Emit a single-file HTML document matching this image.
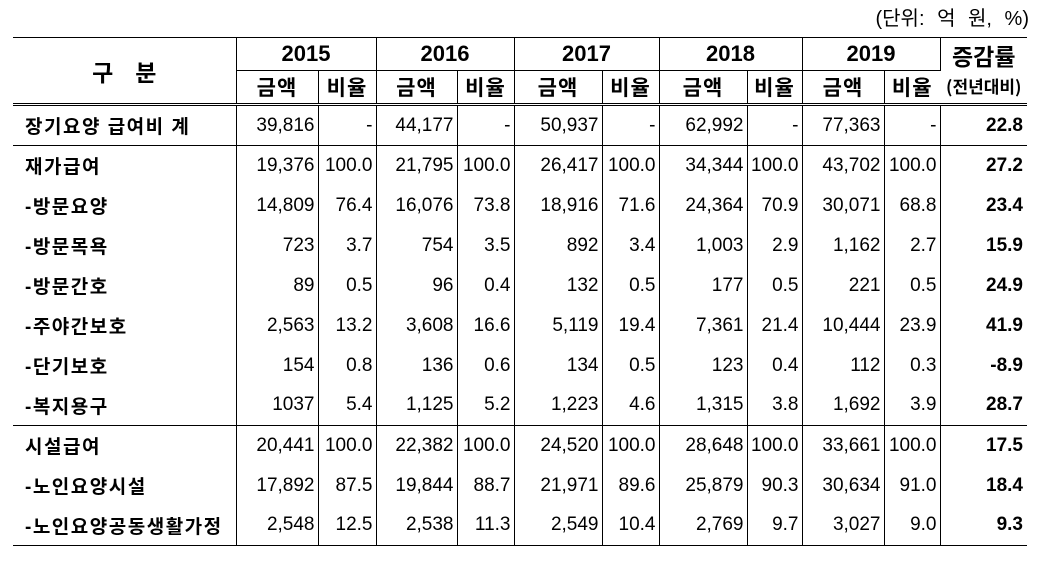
<!DOCTYPE html>
<html><head><meta charset="utf-8"><style>
body{margin:0;background:#fff;width:1049px;height:570px;position:relative;overflow:hidden;font-family:"Liberation Sans","Noto Sans CJK KR",sans-serif;color:#000}
.unit{position:absolute;right:20px;top:5px;font-size:20px;font-family:"Liberation Sans","Noto Sans CJK KR",sans-serif;line-height:28px;word-spacing:7px}
table{position:absolute;left:13px;top:37px;border-collapse:collapse;table-layout:fixed;font-size:19px}
td{padding:0 3px;border-right:1px solid #000;text-align:right;white-space:nowrap;overflow:visible}
td:last-child{border-right:none}
tr.h1 td{height:32px;font-weight:bold;font-size:22px;text-align:center;border-top:1px solid #000}
tr.h2 td{height:32px;font-size:21px;text-align:center;border-bottom:3px double #000;font-weight:bold;font-family:"Noto Sans CJK KR",sans-serif;letter-spacing:1px}
tr.y td.yr{border-bottom:1px solid #000}
td.lab{text-align:left;padding-left:12px;font-weight:bold;font-size:19px;letter-spacing:1.5px;font-family:"Liberation Sans","Noto Sans CJK KR",sans-serif}
tr.r td{height:39px}
tr.b td{border-bottom:1px solid #000}
td.rt{font-weight:bold;padding-right:4px}
</style></head><body>
<div class="unit">(단위: 억 원, %)</div>
<table>
<colgroup><col style="width:223px"><col style="width:82px"><col style="width:58px"><col style="width:81px"><col style="width:57px"><col style="width:88px"><col style="width:57px"><col style="width:88px"><col style="width:55px"><col style="width:82px"><col style="width:56px"><col style="width:87px"></colgroup>
<tr class="h1 y"><td rowspan="2" style="font-size:23px;border-bottom:3px double #000;font-family:'Noto Sans CJK KR',sans-serif;padding:0;text-align:center">구<span style="display:inline-block;width:22px"></span>분</td><td colspan="2" class="yr">2015</td><td colspan="2" class="yr">2016</td><td colspan="2" class="yr">2017</td><td colspan="2" class="yr">2018</td><td colspan="2" class="yr">2019</td><td rowspan="2" style="border-bottom:3px double #000;line-height:28px;font-family:'Noto Sans CJK KR',sans-serif;padding:0;font-size:23px">증감률<br><span style="font-size:17px">(전년대비)</span></td></tr>
<tr class="h2"><td>금액</td><td>비율</td><td>금액</td><td>비율</td><td>금액</td><td>비율</td><td>금액</td><td>비율</td><td>금액</td><td>비율</td></tr>
<tr class="r b"><td class="lab">장기요양 급여비 계</td><td>39,816</td><td>-</td><td>44,177</td><td>-</td><td>50,937</td><td>-</td><td>62,992</td><td>-</td><td>77,363</td><td>-</td><td class="rt">22.8</td></tr>
<tr class="r" style="height:40px"><td class="lab">재가급여</td><td>19,376</td><td>100.0</td><td>21,795</td><td>100.0</td><td>26,417</td><td>100.0</td><td>34,344</td><td>100.0</td><td>43,702</td><td>100.0</td><td class="rt">27.2</td></tr>
<tr class="r" style="height:40px"><td class="lab">-방문요양</td><td>14,809</td><td>76.4</td><td>16,076</td><td>73.8</td><td>18,916</td><td>71.6</td><td>24,364</td><td>70.9</td><td>30,071</td><td>68.8</td><td class="rt">23.4</td></tr>
<tr class="r" style="height:40px"><td class="lab">-방문목욕</td><td>723</td><td>3.7</td><td>754</td><td>3.5</td><td>892</td><td>3.4</td><td>1,003</td><td>2.9</td><td>1,162</td><td>2.7</td><td class="rt">15.9</td></tr>
<tr class="r" style="height:40px"><td class="lab">-방문간호</td><td>89</td><td>0.5</td><td>96</td><td>0.4</td><td>132</td><td>0.5</td><td>177</td><td>0.5</td><td>221</td><td>0.5</td><td class="rt">24.9</td></tr>
<tr class="r" style="height:40px"><td class="lab">-주야간보호</td><td>2,563</td><td>13.2</td><td>3,608</td><td>16.6</td><td>5,119</td><td>19.4</td><td>7,361</td><td>21.4</td><td>10,444</td><td>23.9</td><td class="rt">41.9</td></tr>
<tr class="r" style="height:40px"><td class="lab">-단기보호</td><td>154</td><td>0.8</td><td>136</td><td>0.6</td><td>134</td><td>0.5</td><td>123</td><td>0.4</td><td>112</td><td>0.3</td><td class="rt">-8.9</td></tr>
<tr class="r b" style="height:40px"><td class="lab">-복지용구</td><td>1037</td><td>5.4</td><td>1,125</td><td>5.2</td><td>1,223</td><td>4.6</td><td>1,315</td><td>3.8</td><td>1,692</td><td>3.9</td><td class="rt">28.7</td></tr>
<tr class="r" style="height:40px"><td class="lab">시설급여</td><td>20,441</td><td>100.0</td><td>22,382</td><td>100.0</td><td>24,520</td><td>100.0</td><td>28,648</td><td>100.0</td><td>33,661</td><td>100.0</td><td class="rt">17.5</td></tr>
<tr class="r" style="height:40px"><td class="lab">-노인요양시설</td><td>17,892</td><td>87.5</td><td>19,844</td><td>88.7</td><td>21,971</td><td>89.6</td><td>25,879</td><td>90.3</td><td>30,634</td><td>91.0</td><td class="rt">18.4</td></tr>
<tr class="r b" style="height:40px"><td class="lab">-노인요양공동생활가정</td><td>2,548</td><td>12.5</td><td>2,538</td><td>11.3</td><td>2,549</td><td>10.4</td><td>2,769</td><td>9.7</td><td>3,027</td><td>9.0</td><td class="rt">9.3</td></tr>
</table>
</body></html>
